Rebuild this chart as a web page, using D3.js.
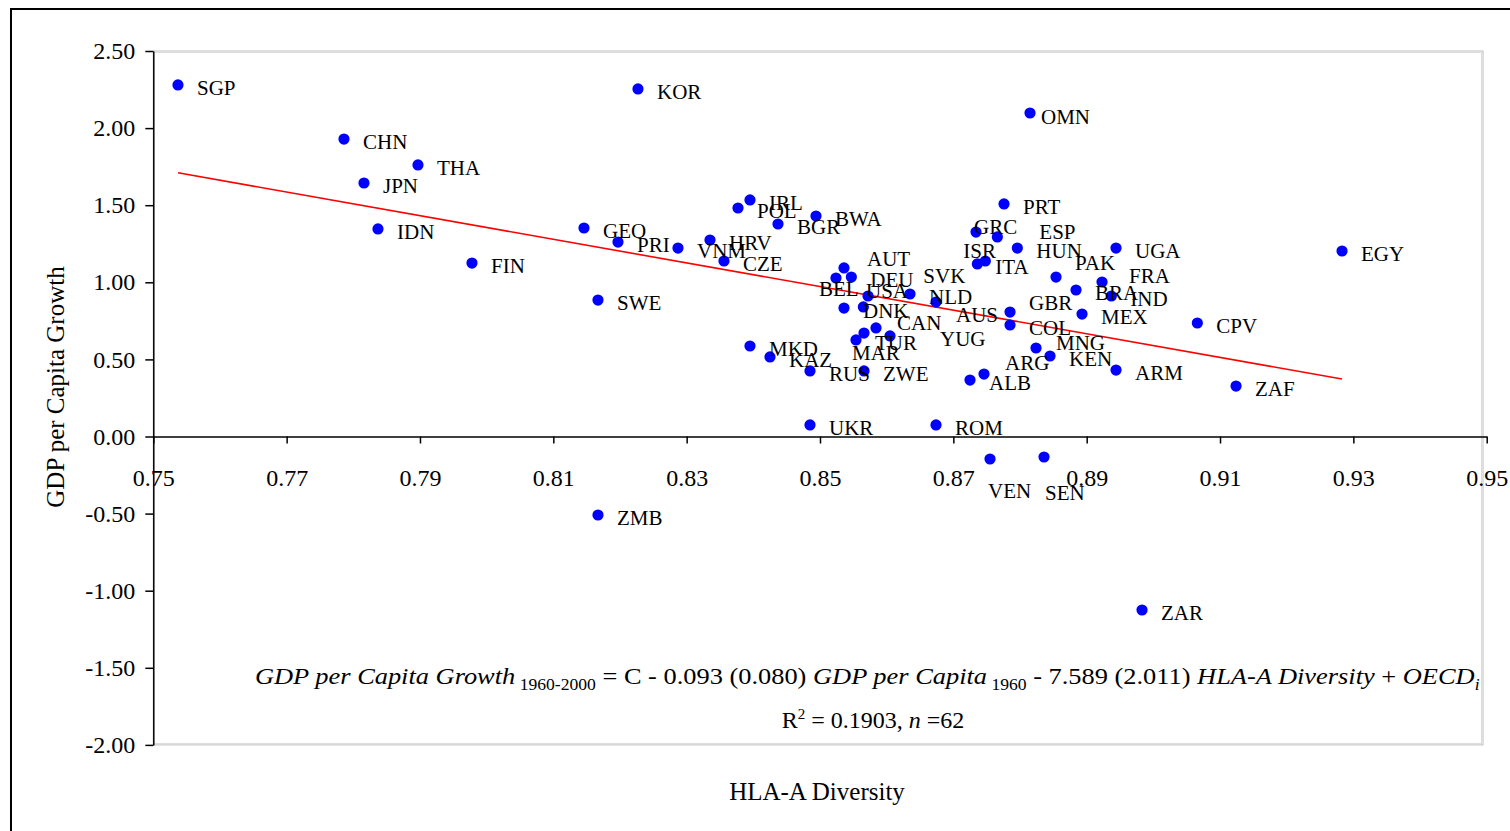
<!DOCTYPE html>
<html>
<head>
<meta charset="utf-8">
<script src="https://cdn.jsdelivr.net/npm/d3@7"></script>
<style>
  body { margin: 0; background: #fff; }
  text { font-family: "Liberation Serif", "Times New Roman", serif; fill: #000; }
</style>
</head>
<body>
<script>
// country codes, HLA-A diversity (x) and GDP per capita growth 1960-2000 (y)
var codes = ["SGP","KOR","OMN","CHN","THA","JPN","IDN","FIN","SWE","ZMB",
  "GEO","PRI","VNM","HRV","CZE","IRL","POL","BGR","BWA","AUT",
  "DEU","BEL","USA","NLD","AUS","DNK","SVK","CAN","MAR","TUR",
  "YUG","MKD","KAZ","RUS","ZWE","ALB","ARG","UKR","ROM","VEN",
  "SEN","ZAR","EGY","ZAF","CPV","ARM","PRT","GRC","ESP","HUN",
  "ISR","ITA","UGA","PAK","FRA","BRA","IND","GBR","MEX","COL",
  "MNG","KEN"];
var hla = [0.7537,0.8227,0.8815,0.7786,0.7897,0.7816,0.7837,0.7978,0.8167,0.8167,
  0.8146,0.8197,0.8287,0.8335,0.8356,0.8395,0.8377,0.8437,0.8494,0.8536,
  0.8547,0.8524,0.8572,0.8635,0.8674,0.8536,0.8565,0.8584,0.8566,0.8554,
  0.8605,0.8395,0.8425,0.8485,0.8566,0.8725,0.8746,0.8485,0.8674,0.8755,
  0.8836,0.8983,0.9283,0.9124,0.9066,0.8944,0.8776,0.8734,0.8766,0.8796,
  0.8736,0.8748,0.8944,0.8854,0.8923,0.8884,0.8937,0.8785,0.8893,0.8785,
  0.8824,0.8845];
var growth = [2.280,2.254,2.098,1.929,1.761,1.644,1.346,1.125,0.885,-0.509,
  1.352,1.261,1.222,1.274,1.138,1.534,1.482,1.378,1.430,1.093,
  1.034,1.028,0.911,0.924,0.872,0.833,0.840,0.704,0.671,0.626,
  0.652,0.587,0.516,0.425,0.425,0.366,0.405,0.075,0.075,-0.146,
  -0.133,-1.125,1.203,0.327,0.736,0.431,1.508,1.326,1.294,1.222,
  1.119,1.138,1.222,1.034,1.002,0.950,0.911,0.807,0.794,0.723,
  0.574,0.522];

// fitted line end points
var trendHla = [0.7537, 0.9283];
var trendGrowth = [1.71, 0.373];

var xTicks = d3.range(0, 11).map(function(i){ return 0.75 + i * 0.02; });
var yTicks = d3.range(-4, 6).map(function(i){ return i * 0.5; });

// labels that were dragged away from the default spot (pixels)
var labelNudge = {AUT:[4,-12], BEL:[-36,8], USA:[-21,-8], SVK:[41,-34], AUS:[1,10],
  CAN:[2,-8], MAR:[-31,17], YUG:[31,0], ARG:[2,-14], GRC:[-21,-8], ESP:[23,-8],
  ISR:[-33,-16], ITA:[-9,3], PAK:[0,-17], FRA:[8,-9], GBR:[0,-12], MNG:[1,-8],
  VEN:[-21,29], SEN:[-18,33], OMN:[-8,1]};

var width = 1510, height = 831;

var svg = d3.select("body").append("svg")
    .attr("width", width)
    .attr("height", height);

// outer frame
svg.append("rect")
    .attr("x", 11).attr("y", 9)
    .attr("width", 1520).attr("height", 840)
    .attr("fill", "none").attr("stroke", "#000").attr("stroke-width", 2);

var x = d3.scaleLinear().domain([0.75, 0.95]).range([153.3, 1486.7]);
var y = d3.scaleLinear().domain([-2, 2.5]).range([744.9, 51]);

// plot area border
svg.append("rect")
    .attr("x", x(0.75)).attr("y", y(2.5))
    .attr("width", 1483 - x(0.75)).attr("height", y(-2) - y(2.5))
    .attr("fill", "none").attr("stroke", "#bdbdbd").attr("stroke-width", 1);
svg.append("rect")
    .attr("x", x(0.75)).attr("y", y(2.5) + 1.5)
    .attr("width", 1483 - x(0.75) - 1.5).attr("height", y(-2) - y(2.5) - 3)
    .attr("fill", "none").attr("stroke", "#dcdcdc").attr("stroke-width", 1);

var fmt = function(d){ return d.toFixed(2); };

var yAxis = svg.append("g")
    .attr("transform", "translate(" + x(0.75) + ",0)")
    .call(d3.axisLeft(y).tickValues(yTicks).tickFormat(fmt).tickSize(8).tickSizeOuter(0).tickPadding(10));

var xAxis = svg.append("g")
    .attr("transform", "translate(0," + y(0) + ")")
    .call(d3.axisBottom(x).tickValues(xTicks).tickFormat(fmt).tickSize(7).tickSizeOuter(0).tickPadding(25));

svg.selectAll(".domain").attr("stroke", "#000").attr("stroke-width", 1.5);
svg.selectAll(".tick line").attr("stroke", "#000").attr("stroke-width", 1.5);
svg.selectAll(".tick text")
    .style("font-family", "'Liberation Serif', 'Times New Roman', serif")
    .style("font-size", "24px")
    .attr("fill", "#000");

// trend line
svg.append("line")
    .attr("x1", x(trendHla[0])).attr("y1", y(trendGrowth[0]))
    .attr("x2", x(trendHla[1])).attr("y2", y(trendGrowth[1]))
    .attr("stroke", "#ff0000").attr("stroke-width", 1.6);

var pts = codes.map(function(c, i){ return {code: c, hla: hla[i], growth: growth[i]}; });

svg.append("g").selectAll("circle")
    .data(pts).enter().append("circle")
    .attr("cx", function(d){ return x(d.hla); })
    .attr("cy", function(d){ return y(d.growth); })
    .attr("r", 5.6)
    .attr("fill", "#0000ff");

svg.append("g").selectAll("text")
    .data(pts).enter().append("text")
    .attr("x", function(d){ var n = labelNudge[d.code] || [0,0]; return x(d.hla) + 19 + n[0]; })
    .attr("y", function(d){ var n = labelNudge[d.code] || [0,0]; return y(d.growth) + 10 + n[1]; })
    .style("font-size", "21px")
    .text(function(d){ return d.code; });

// axis titles
svg.append("text")
    .attr("transform", "translate(64,387) rotate(-90)")
    .attr("text-anchor", "middle")
    .style("font-size", "25px")
    .text("GDP per Capita Growth");

svg.append("text")
    .attr("x", 817).attr("y", 800)
    .attr("text-anchor", "middle")
    .style("font-size", "25px")
    .text("HLA-A Diversity");

// regression equation (stretched a bit like the original, clipped by plot border)
svg.append("clipPath").attr("id", "eqclip")
  .append("rect").attr("x", 0).attr("y", 0).attr("width", 1483).attr("height", 831);

var eq = svg.append("g").attr("clip-path", "url(#eqclip)")
  .append("text")
    .attr("transform", "translate(255,684) scale(1.1,1)")
    .style("font-size", "24px");
eq.append("tspan").style("font-style", "italic").text("GDP per Capita Growth");
eq.append("tspan").attr("dy", 6).style("font-size", "16px").text(" 1960-2000");
eq.append("tspan").attr("dy", -6).text(" = C  - 0.093 (0.080) ");
eq.append("tspan").style("font-style", "italic").text("GDP per Capita");
eq.append("tspan").attr("dy", 6).style("font-size", "16px").text(" 1960");
eq.append("tspan").attr("dy", -6).text(" - 7.589 (2.011) ");
eq.append("tspan").style("font-style", "italic").text("HLA-A Diversity");
eq.append("tspan").text(" + ");
eq.append("tspan").style("font-style", "italic").text("OECD");
eq.append("tspan").attr("dy", 6).style("font-size", "16px").style("font-style", "italic").text("i");

var r2 = svg.append("text")
    .attr("x", 873).attr("y", 728)
    .attr("text-anchor", "middle")
    .style("font-size", "24px");
r2.append("tspan").text("R");
r2.append("tspan").attr("dy", -9).style("font-size", "15px").text("2");
r2.append("tspan").attr("dy", 9).text(" = 0.1903, ");
r2.append("tspan").style("font-style", "italic").text("n");
r2.append("tspan").text(" =62");
</script>
</body>
</html>
